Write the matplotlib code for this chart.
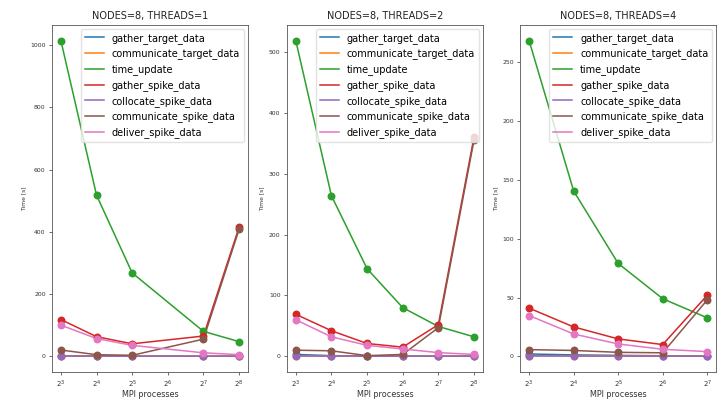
import matplotlib
matplotlib.use("Agg")
import matplotlib.pyplot as plt

series_names = ["gather_target_data", "communicate_target_data", "time_update",
                "gather_spike_data", "collocate_spike_data",
                "communicate_spike_data", "deliver_spike_data"]
threads = [1, 2, 4]

# MPI processes per panel
procs_t1 = [8, 16, 32, 128, 256]
procs_t2 = [8, 16, 32, 64, 128, 256]
procs_t4 = [8, 16, 32, 64, 128]

# times [s], one list per series (same order as series_names)
times_t1 = [
    [1.5, 0.8, 0.5, 0.3, 0.3],
    [0.5, 0.3, 0.2, 0.2, 0.2],
    [1015, 518, 268, 80, 47],
    [118, 63, 40, 65, 415],
    [0.5, 0.3, 0.2, 0.1, 0.1],
    [20, 5, 3, 55, 408],
    [100, 57, 35, 11, 5],
]
times_t2 = [
    [3, 1, 0.5, 0.5, 0.3, 0.3],
    [0.5, 0.3, 0.3, 0.2, 0.2, 0.2],
    [519, 264, 144, 80, 49, 32],
    [69, 42, 21, 15, 52, 360],
    [0.5, 0.3, 0.2, 0.2, 0.1, 0.1],
    [10, 9, 1, 3, 47, 355],
    [60, 32, 18, 12, 6, 3],
]
times_t4 = [
    [2, 1.2, 0.8, 0.5, 0.3],
    [0.5, 0.4, 0.3, 0.2, 0.2],
    [268.5, 140.6, 79, 49, 32.7],
    [41, 25, 14.8, 10, 52],
    [0.3, 0.2, 0.2, 0.1, 0.1],
    [5.7, 5, 3.4, 3, 48],
    [34.7, 19, 10.5, 6, 4],
]

panels = [(procs_t1, times_t1), (procs_t2, times_t2), (procs_t4, times_t4)]
lefts = [0.0723, 0.399, 0.7235]

fig = plt.figure(figsize=(7.19, 3.99), dpi=100)

for i, (procs, times) in enumerate(panels):
    ax = fig.add_axes([lefts[i], 0.0677, 0.2726, 0.870])
    for k, (name, ys) in enumerate(zip(series_names, times)):
        col = "C%d" % k
        ax.plot(procs, ys, color=col, linewidth=1.1, label=name)
        ax.scatter(procs, ys, color=col, s=22, zorder=2.5)
    ax.set_xscale("log", base=2)
    ax.set_title("NODES=8, THREADS=%d" % threads[i], fontsize=7, color="#222222", pad=4)
    ax.set_xlabel("MPI processes", fontsize=5.8, labelpad=0.5, color="#333333")
    ax.set_ylabel("Time [s]", fontsize=4.3, labelpad=3, color="#333333")
    ax.tick_params(labelsize=4.4, length=2.5, width=0.5, pad=2, colors="#333333")
    ax.tick_params(axis="x", labelsize=5.0)
    for sp in ax.spines.values():
        sp.set_linewidth(0.6)
        sp.set_color("#555555")
    ax.legend(loc="upper right", fontsize=7, frameon=True, framealpha=0.8,
              edgecolor="#dddddd", borderaxespad=0.4, handlelength=2.0)

fig.savefig("out.png", dpi=100)
